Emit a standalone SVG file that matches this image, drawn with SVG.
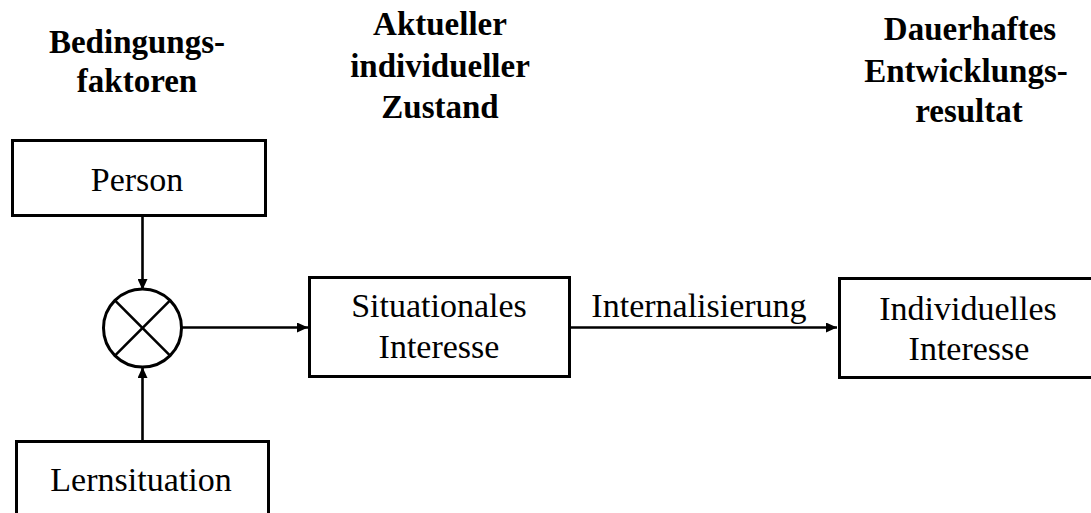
<svg xmlns="http://www.w3.org/2000/svg" width="1091" height="513" viewBox="0 0 1091 513">
  <style>
    .box { fill: #ffffff; stroke: #000000; stroke-width: 3; }
    .label { font-family: 'Liberation Serif', 'DejaVu Serif', serif; font-size: 34px; fill: #000000; text-anchor: middle; }
    .head { font-family: 'Liberation Serif', 'DejaVu Serif', serif; font-size: 33px; font-weight: bold; fill: #000000; text-anchor: middle; }
    .edge { fill: none; stroke: #000000; stroke-width: 2.6; }
  </style>
  <defs>
    <marker id="arrow" markerUnits="userSpaceOnUse" markerWidth="12" markerHeight="10" refX="11" refY="5" orient="auto">
      <path d="M0,0 L11,5 L0,10 Z" fill="#000000"/>
    </marker>
  </defs>

  <rect width="1091" height="513" fill="#ffffff"/>

  <!-- Column headings -->
  <g id="headings">
    <text class="head" x="137" y="53">Bedingungs-</text>
    <text class="head" x="137" y="92">faktoren</text>
    <text class="head" x="440" y="35">Aktueller</text>
    <text class="head" x="440" y="77">individueller</text>
    <text class="head" x="440" y="118">Zustand</text>
    <text class="head" x="970" y="40">Dauerhaftes</text>
    <text class="head" x="966" y="82">Entwicklungs-</text>
    <text class="head" x="969" y="122">resultat</text>
  </g>

  <!-- Connectors -->
  <g id="connectors">
    <line class="edge" x1="142.5" y1="216" x2="142.5" y2="290" marker-end="url(#arrow)"/>
    <line class="edge" x1="142.5" y1="441" x2="142.5" y2="367" marker-end="url(#arrow)"/>
    <line class="edge" x1="182" y1="327.5" x2="308" y2="327.5" marker-end="url(#arrow)"/>
    <line class="edge" x1="570" y1="327.5" x2="837" y2="327.5" marker-end="url(#arrow)"/>
    <text class="label" x="699" y="317">Internalisierung</text>
  </g>

  <g id="person">
    <rect class="box" x="12.5" y="140.5" width="253" height="75"/>
    <text class="label" x="137" y="191">Person</text>
  </g>

  <g id="combine">
    <circle class="box" cx="142.5" cy="328" r="39"/>
    <line class="edge" stroke-width="3" x1="114.9" y1="300.4" x2="170.1" y2="355.6"/>
    <line class="edge" stroke-width="3" x1="170.1" y1="300.4" x2="114.9" y2="355.6"/>
  </g>

  <g id="lernsituation">
    <rect class="box" x="16.5" y="441.5" width="252" height="100"/>
    <text class="label" x="141" y="491">Lernsituation</text>
  </g>

  <g id="situationales">
    <rect class="box" x="309.5" y="277.5" width="260" height="99"/>
    <text class="label" x="439" y="317">Situationales</text>
    <text class="label" x="439" y="358">Interesse</text>
  </g>

  <g id="individuelles">
    <rect class="box" x="839.5" y="278.5" width="260" height="99"/>
    <text class="label" x="968" y="320">Individuelles</text>
    <text class="label" x="969" y="360">Interesse</text>
  </g>
</svg>
